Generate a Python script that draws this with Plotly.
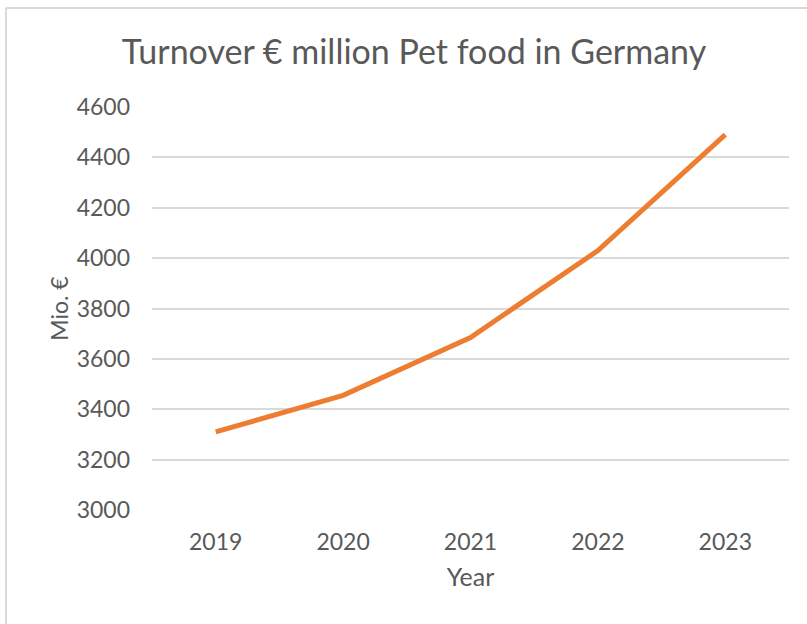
import plotly.graph_objects as go

# Pet food turnover in Germany, € million
years = ["2019", "2020", "2021", "2022", "2023"]
turnover = [3310, 3455, 3685, 4030, 4490]
y_ticks = [3000, 3200, 3400, 3600, 3800, 4000, 4200, 4400, 4600]

FONT = "Lato"
TEXT = "#595959"
GRID = "#D9D9D9"

fig = go.Figure()
fig.add_trace(go.Scatter(
    x=years, y=turnover, mode="lines",
    line=dict(color="#ED7D31", width=5),
    hoverinfo="x+y",
))

fig.update_layout(
    width=807, height=624,
    paper_bgcolor="white", plot_bgcolor="white",
    margin=dict(l=152, r=18, t=107, b=114),
    showlegend=False,
    font=dict(family=FONT, color=TEXT),
    title=dict(
        text="Turnover € million Pet food in Germany",
        x=0.513, xanchor="center", y=1 - 52 / 624, yanchor="middle",
        font=dict(family=FONT, size=34, color=TEXT),
    ),
    xaxis=dict(
        type="category", range=[-0.5, 4.5],
        showgrid=False, zeroline=False, showline=False,
        ticks="", tickfont=dict(size=23, color=TEXT),
        ticklabelstandoff=16,
        title=dict(text="Year", font=dict(size=25, color=TEXT), standoff=14),
    ),
    yaxis=dict(
        range=[3000, 4600], tickvals=y_ticks,
        showgrid=True, gridcolor=GRID, gridwidth=2,
        zeroline=False, showline=False,
        ticks="", tickfont=dict(size=23, color=TEXT),
        ticklabelstandoff=21,
        title=dict(text="Mio. €", font=dict(size=23, color=TEXT), standoff=1),
    ),
    shapes=[
        # chart area border (top and left edges visible)
        dict(type="line", xref="paper", yref="paper",
             x0=-146 / 637, x1=1 + 18 / 637, y0=1 + 99 / 403, y1=1 + 99 / 403,
             line=dict(color=GRID, width=2)),
        dict(type="line", xref="paper", yref="paper",
             x0=-146 / 637, x1=-146 / 637, y0=1 + 99 / 403, y1=-114 / 403,
             line=dict(color=GRID, width=2)),
    ],
)

fig.write_html("out.html")
